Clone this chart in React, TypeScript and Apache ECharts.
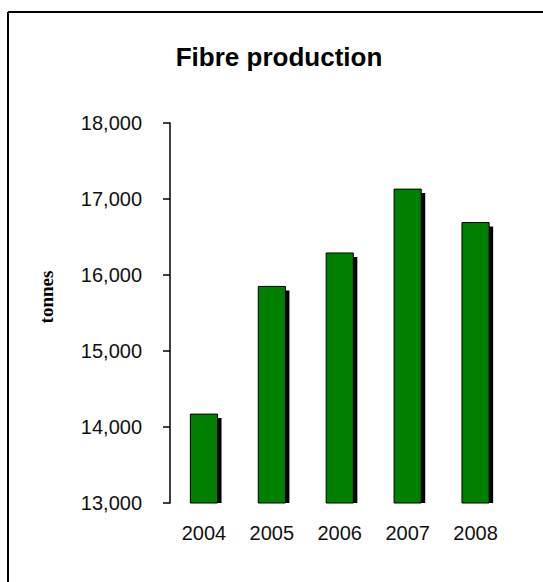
import React, { useEffect, useRef } from "react";
import * as echarts from "echarts";

const categories = ["2004", "2005", "2006", "2007", "2008"];
const fibreTonnes = [14170, 15850, 16290, 17130, 16690];
const yTicks = { min: 13000, max: 18000, interval: 1000 };
const titleText = "Fibre production";
const yAxisName = "tonnes";

export default function App() {
  const ref = useRef<HTMLDivElement>(null);
  useEffect(() => {
    if (!ref.current) return;
    const chart = echarts.init(ref.current, null, { renderer: "svg" });
    const sans = "Liberation Sans, Arial, sans-serif";
    chart.setOption({
      animation: false,
      backgroundColor: "#ffffff",
      title: {
        text: titleText,
        left: 274,
        top: 39,
        textAlign: "center",
        textStyle: { fontFamily: sans, fontSize: 26, fontWeight: "bold", color: "#000" },
      },
      grid: { left: 170, right: 33.5, top: 123, bottom: 79, containLabel: false },
      xAxis: {
        type: "category",
        data: categories,
        axisLine: { show: false },
        axisTick: { show: false },
        axisLabel: { fontFamily: sans, fontSize: 20, color: "#111", margin: 20 },
      },
      yAxis: {
        type: "value",
        min: yTicks.min,
        max: yTicks.max,
        interval: yTicks.interval,
        splitLine: { show: false },
        axisLine: { show: true, lineStyle: { color: "#000", width: 1.5 } },
        axisTick: { show: true, length: 7, lineStyle: { color: "#000", width: 1.5 } },
        axisLabel: {
          fontFamily: sans,
          fontSize: 20,
          color: "#111",
          margin: 28,
          formatter: (v: number) => v.toLocaleString("en-US"),
        },
      },
      graphic: [
        { type: "line", shape: { x1: 8, y1: 12, x2: 543, y2: 12 }, style: { stroke: "#000", lineWidth: 2 } },
        { type: "line", shape: { x1: 8, y1: 12, x2: 8, y2: 582 }, style: { stroke: "#000", lineWidth: 2 } },
        {
          type: "text",
          x: 46,
          y: 297,
          rotation: Math.PI / 2,
          style: {
            text: yAxisName,
            fontFamily: "Liberation Serif, Times New Roman, serif",
            fontWeight: "bold",
            fontSize: 19,
            fill: "#000",
            align: "center",
            verticalAlign: "middle",
          },
        },
      ],
      series: [
        {
          type: "custom",
          data: fibreTonnes.map((v, i) => [i, v]),
          encode: { x: 0, y: 1 },
          renderItem: (params: any, api: any) => {
            const idx = api.value(0);
            const val = api.value(1);
            const top = api.coord([idx, val]);
            const base = api.coord([idx, yTicks.min]);
            const bw = api.size([1, 0])[0] * 0.4;
            const x = top[0] - bw / 2;
            const h = base[1] - top[1];
            return {
              type: "group",
              children: [
                {
                  type: "rect",
                  shape: { x: x + 4, y: top[1] + 4, width: bw, height: h - 4 },
                  style: { fill: "#000" },
                },
                {
                  type: "rect",
                  shape: { x, y: top[1], width: bw, height: h },
                  style: { fill: "#008000", stroke: "#000", lineWidth: 1 },
                },
              ],
            };
          },
        },
      ],
    });
    return () => chart.dispose();
  }, []);
  return (
    <div
      ref={ref}
      style={{ position: "absolute", left: 0, top: 0, width: 543, height: 582 }}
    />
  );
}
